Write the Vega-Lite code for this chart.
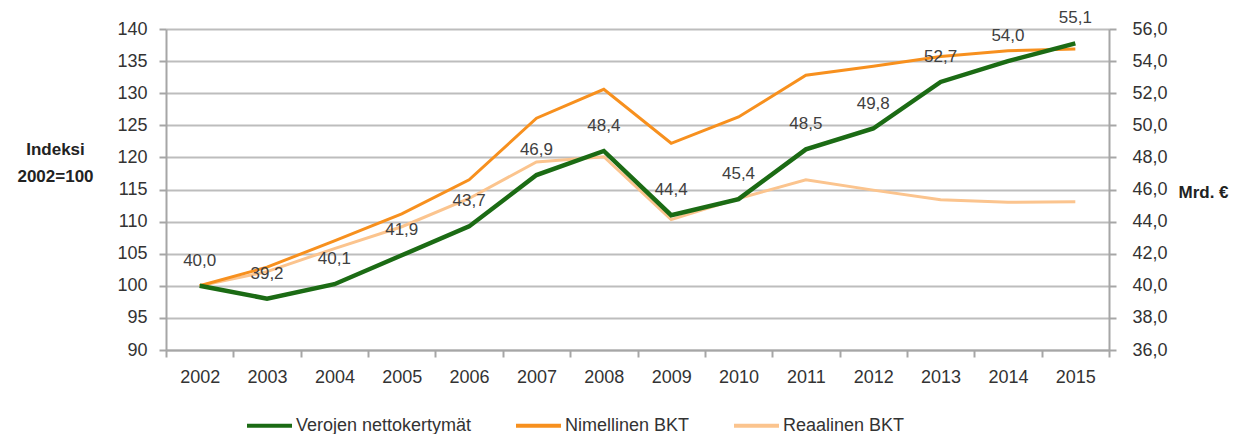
{
  "$schema": "https://vega.github.io/schema/vega-lite/v6.json",
  "autosize": "none",
  "width": 943,
  "height": 321,
  "padding": {"left": 166, "top": 29, "right": 136, "bottom": 84},
  "background": "white",
  "config": {
    "locale": {"number": {"decimal": ",", "thousands": " ", "grouping": [3], "currency": ["", " €"]}},
    "font": "Liberation Sans",
    "view": {"stroke": null},
    "axis": {"labelFont": "Liberation Sans", "labelFontSize": 18, "labelColor": "#333333", "titleFont": "Liberation Sans", "titleColor": "#222222", "domainColor": "#a6a6a6", "domainWidth": 2, "tickColor": "#a6a6a6", "tickWidth": 2}
  },
  "datasets": {
    "gdp": [
      {"year": "2002", "series": "Nimellinen BKT", "index": 100},
      {"year": "2003", "series": "Nimellinen BKT", "index": 102.9},
      {"year": "2004", "series": "Nimellinen BKT", "index": 107.0},
      {"year": "2005", "series": "Nimellinen BKT", "index": 111.2},
      {"year": "2006", "series": "Nimellinen BKT", "index": 116.5},
      {"year": "2007", "series": "Nimellinen BKT", "index": 126.1},
      {"year": "2008", "series": "Nimellinen BKT", "index": 130.6},
      {"year": "2009", "series": "Nimellinen BKT", "index": 122.2},
      {"year": "2010", "series": "Nimellinen BKT", "index": 126.3},
      {"year": "2011", "series": "Nimellinen BKT", "index": 132.8},
      {"year": "2012", "series": "Nimellinen BKT", "index": 134.2},
      {"year": "2013", "series": "Nimellinen BKT", "index": 135.7},
      {"year": "2014", "series": "Nimellinen BKT", "index": 136.6},
      {"year": "2015", "series": "Nimellinen BKT", "index": 136.9},
      {"year": "2002", "series": "Reaalinen BKT", "index": 100},
      {"year": "2003", "series": "Reaalinen BKT", "index": 102.2},
      {"year": "2004", "series": "Reaalinen BKT", "index": 105.8},
      {"year": "2005", "series": "Reaalinen BKT", "index": 109.2},
      {"year": "2006", "series": "Reaalinen BKT", "index": 113.6},
      {"year": "2007", "series": "Reaalinen BKT", "index": 119.3},
      {"year": "2008", "series": "Reaalinen BKT", "index": 120.1},
      {"year": "2009", "series": "Reaalinen BKT", "index": 110.3},
      {"year": "2010", "series": "Reaalinen BKT", "index": 113.6},
      {"year": "2011", "series": "Reaalinen BKT", "index": 116.5},
      {"year": "2012", "series": "Reaalinen BKT", "index": 114.9},
      {"year": "2013", "series": "Reaalinen BKT", "index": 113.4},
      {"year": "2014", "series": "Reaalinen BKT", "index": 113.0},
      {"year": "2015", "series": "Reaalinen BKT", "index": 113.1}
    ],
    "tax": [
      {"year": "2002", "series": "Verojen nettokertymät", "mrd": 40.0},
      {"year": "2003", "series": "Verojen nettokertymät", "mrd": 39.2},
      {"year": "2004", "series": "Verojen nettokertymät", "mrd": 40.1},
      {"year": "2005", "series": "Verojen nettokertymät", "mrd": 41.9},
      {"year": "2006", "series": "Verojen nettokertymät", "mrd": 43.7},
      {"year": "2007", "series": "Verojen nettokertymät", "mrd": 46.9},
      {"year": "2008", "series": "Verojen nettokertymät", "mrd": 48.4},
      {"year": "2009", "series": "Verojen nettokertymät", "mrd": 44.4},
      {"year": "2010", "series": "Verojen nettokertymät", "mrd": 45.4},
      {"year": "2011", "series": "Verojen nettokertymät", "mrd": 48.5},
      {"year": "2012", "series": "Verojen nettokertymät", "mrd": 49.8},
      {"year": "2013", "series": "Verojen nettokertymät", "mrd": 52.7},
      {"year": "2014", "series": "Verojen nettokertymät", "mrd": 54.0},
      {"year": "2015", "series": "Verojen nettokertymät", "mrd": 55.1}
    ]
  },
  "encoding": {
    "x": {
      "field": "year", "type": "ordinal",
      "scale": {"type": "band", "paddingInner": 0, "paddingOuter": 0},
      "axis": {"title": null, "labelAngle": 0, "tickBand": "extent", "tickSize": 7, "labelPadding": 11, "grid": false}
    }
  },
  "layer": [
    {
      "data": {"name": "gdp"},
      "encoding": {
        "y": {
          "field": "index", "type": "quantitative",
          "scale": {"domain": [90, 140], "nice": false, "zero": false},
          "axis": {"orient": "left", "values": [90, 95, 100, 105, 110, 115, 120, 125, 130, 135, 140], "grid": true, "gridColor": "#bdbdbd", "gridWidth": 2, "tickSize": 7, "labelPadding": 12, "title": ["Indeksi", "2002=100"], "titleAngle": 0, "titleAlign": "center", "titleBaseline": "middle", "titleX": -111, "titleY": 120, "titleFontSize": 17, "titleFontWeight": "bold", "titleLineHeight": 27}
        },
        "color": {
          "field": "series", "type": "nominal",
          "scale": {"domain": ["Verojen nettokertymät", "Nimellinen BKT", "Reaalinen BKT"], "range": ["#1b6b14", "#f7901e", "#fbc48e"]},
          "legend": {"title": null, "orient": "none", "direction": "horizontal", "legendX": 79, "legendY": 372, "symbolType": "stroke", "symbolSize": 2025, "symbolStrokeWidth": 4, "labelFontSize": 18, "labelLimit": 0, "labelColor": "#333333", "labelOffset": 2, "columnPadding": 36}
        }
      },
      "layer": [
        {"transform": [{"filter": "datum.series === 'Reaalinen BKT'"}], "mark": {"type": "line", "strokeWidth": 3}},
        {"transform": [{"filter": "datum.series === 'Nimellinen BKT'"}], "mark": {"type": "line", "strokeWidth": 3}}
      ]
    },
    {
      "data": {"name": "tax"},
      "encoding": {
        "y": {
          "field": "mrd", "type": "quantitative",
          "scale": {"domain": [36, 56], "nice": false, "zero": false},
          "axis": {"orient": "right", "values": [36, 38, 40, 42, 44, 46, 48, 50, 52, 54, 56], "format": ".1f", "grid": false, "tickSize": 7, "labelPadding": 16, "title": "Mrd. €", "titleAngle": 0, "titleAlign": "left", "titleBaseline": "middle", "titleX": 69, "titleY": 163, "titleFontSize": 17, "titleFontWeight": "bold"}
        }
      },
      "layer": [
        {
          "mark": {"type": "line", "strokeWidth": 4.5},
          "encoding": {
            "color": {
              "field": "series", "type": "nominal",
              "scale": {"domain": ["Verojen nettokertymät", "Nimellinen BKT", "Reaalinen BKT"], "range": ["#1b6b14", "#f7901e", "#fbc48e"]},
              "legend": {"title": null, "orient": "none", "direction": "horizontal", "legendX": 79, "legendY": 372, "symbolType": "stroke", "symbolSize": 2025, "symbolStrokeWidth": 4, "labelFontSize": 18, "labelLimit": 0, "labelColor": "#333333", "labelOffset": 2, "columnPadding": 36}
            }
          }
        },
        {
          "mark": {"type": "text", "dy": -25, "fontSize": 17, "color": "#404040", "baseline": "middle", "align": "center"},
          "encoding": {"text": {"field": "mrd", "type": "quantitative", "format": ".1f"}}
        }
      ]
    }
  ],
  "resolve": {"scale": {"y": "independent"}}
}
